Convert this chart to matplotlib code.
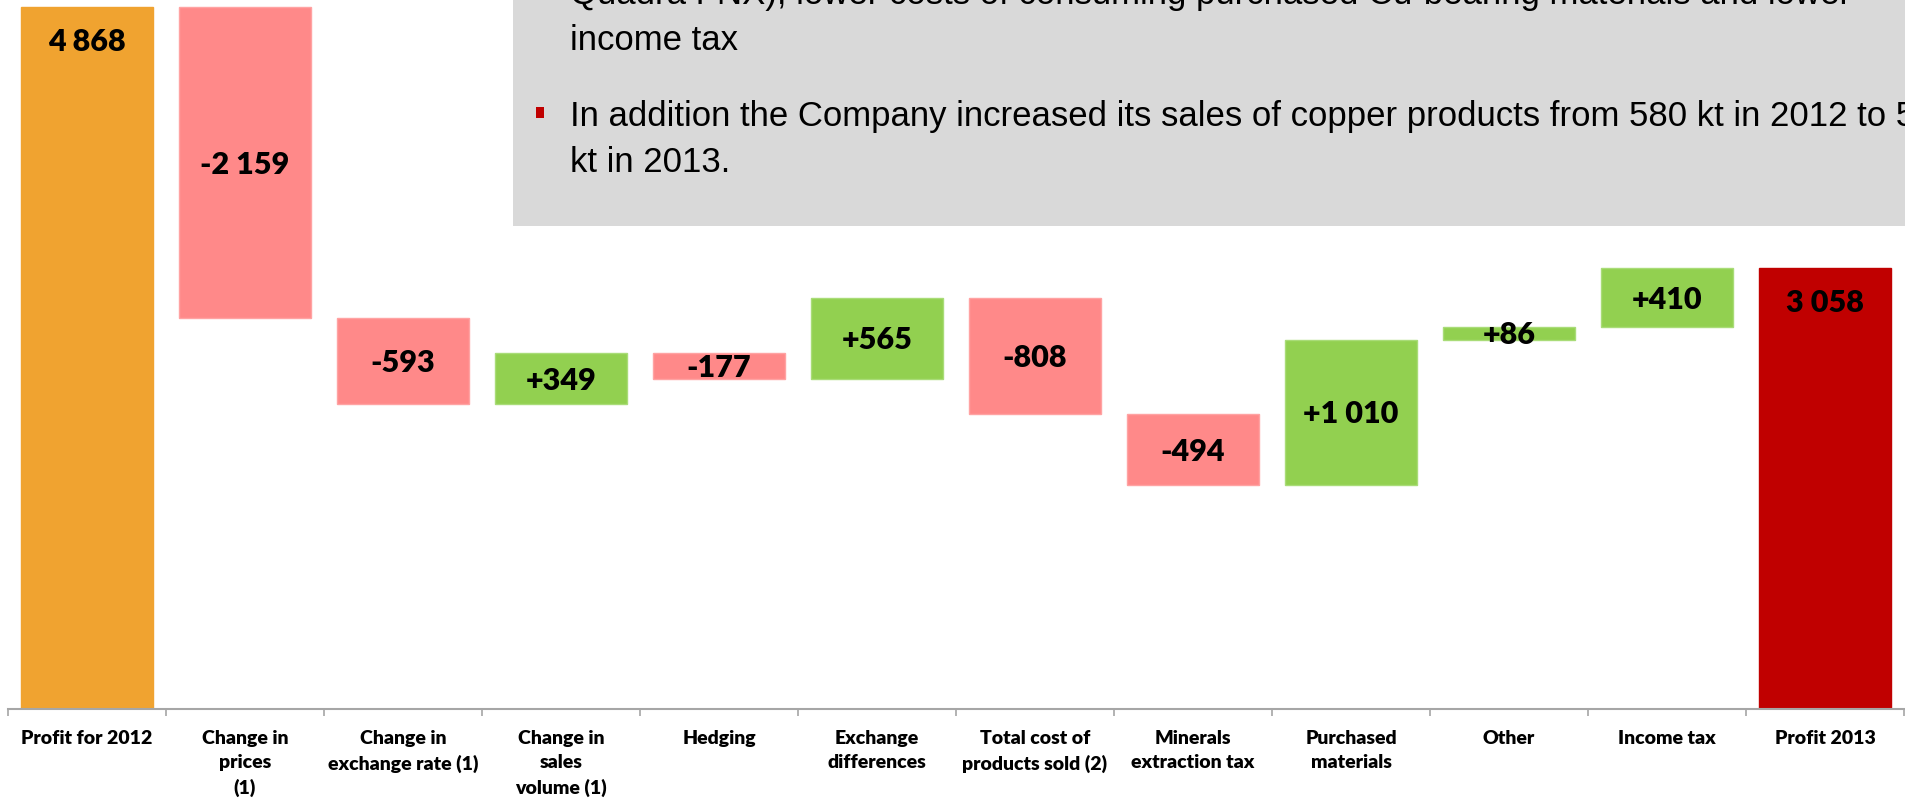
import matplotlib
matplotlib.use("Agg")
import matplotlib.pyplot as plt
from matplotlib.patches import Rectangle

# ---- data (PLN m) ----
categories = [
    "Profit for 2012",
    "Change in\nprices\n(1)",
    "Change in\nexchange rate (1)",
    "Change in\nsales\nvolume (1)",
    "Hedging",
    "Exchange\ndifferences",
    "Total cost of\nproducts sold (2)",
    "Minerals\nextraction tax",
    "Purchased\nmaterials",
    "Other",
    "Income tax",
    "Profit 2013",
]
start_total = 4868
changes = [-2159, -593, 349, -177, 565, -808, -494, 1010, 86, 410]
end_total = 3058

note_lines = [
    "Quadra FNX), lower costs of consuming purchased Cu-bearing materials and lower",
    "income tax",
    "In addition the Company increased its sales of copper products from 580 kt in 2012 to 5",
    "kt in 2013.",
]

# ---- styling ----
C_START = "#F0A330"
C_NEG = "#FF8989"
C_POS = "#92D050"
C_END = "#C00000"
C_BOX = "#D9D9D9"
C_AXIS = "#A6A6A6"

W, H = 1905, 800
fig = plt.figure(figsize=(W / 100, H / 100), dpi=100)
ax = fig.add_axes([8 / W, (H - 709) / H, 1896 / W, 709 / H])

def fmt(v, signed=False):
    s = f"{abs(v):,}".replace(",", " ")
    if v < 0:
        return "-" + s
    return ("+" + s) if signed else s

bar_w = 0.835
label_font = dict(family="Lato", weight="heavy", size=22, color="black")

# opening total
ax.bar(0, start_total, width=bar_w, color=C_START, edgecolor=C_START)
ax.annotate(fmt(start_total), (0, start_total), xytext=(0, -35),
            textcoords="offset pixels", ha="center", va="center", **label_font)

# changes
running = start_total
for i, c in enumerate(changes, start=1):
    bottom = min(running, running + c)
    color = C_POS if c > 0 else C_NEG
    edge = "#A9DC78" if c > 0 else "#FFA3A3"
    ax.bar(i, abs(c), bottom=bottom, width=bar_w, color=color,
           edgecolor=edge, linewidth=1)
    ax.annotate(fmt(c, signed=True), (i, bottom + abs(c) / 2), xytext=(0, -2),
                textcoords="offset pixels", ha="center", va="center",
                **label_font)
    running += c

# closing total
n = len(categories) - 1
ax.bar(n, end_total, width=bar_w, color=C_END, edgecolor=C_END)
ax.annotate(fmt(end_total), (n, end_total), xytext=(0, -35),
            textcoords="offset pixels", ha="center", va="center", **label_font)

ax.set_xlim(-0.5, len(categories) - 0.5)
ax.set_ylim(0, 4916)

for side in ("left", "right", "top"):
    ax.spines[side].set_visible(False)
ax.spines["bottom"].set_color(C_AXIS)
ax.spines["bottom"].set_linewidth(1.5)
ax.set_yticks([])

ax.set_xticks(range(len(categories)))
ax.set_xticklabels(categories, family="Lato", weight="heavy", size=14,
                   linespacing=1.5)
ax.set_xticks([i - 0.5 for i in range(len(categories) + 1)], minor=True)
ax.tick_params(axis="x", which="major", length=0, pad=15)
ax.tick_params(axis="x", which="minor", length=5, width=1.2, color=C_AXIS,
               direction="out")
for lbl in ax.get_xticklabels():
    lbl.set_multialignment("center")

# commentary box
fig.patches.append(Rectangle((513 / W, (H - 226) / H), 1 - 513 / W, 226 / H,
                             transform=fig.transFigure, facecolor=C_BOX,
                             edgecolor="none", zorder=5))
fig.patches.append(Rectangle((536 / W, (H - 118) / H), 8 / W, 11 / H,
                             transform=fig.transFigure, facecolor=C_END,
                             edgecolor="none", zorder=6))
baselines = [4, 50, 126, 172]
for line, yb in zip(note_lines, baselines):
    fig.text(570 / W, (H - yb) / H, line, family="Liberation Sans", size=25,
             ha="left", va="baseline", color="black", zorder=7)

fig.savefig("out.png", dpi=100)
